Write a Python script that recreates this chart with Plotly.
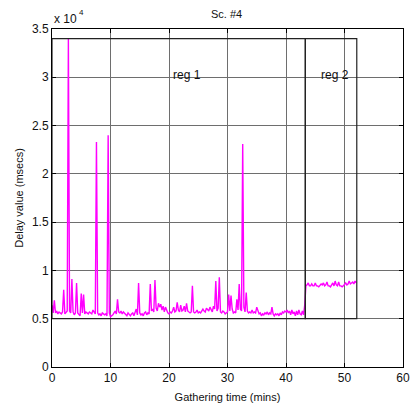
import numpy as np
import plotly.graph_objects as go

# Delay samples (msecs), one every SAMPLE_MIN minutes from t = 0
SAMPLE_MIN = 0.2
delay_ms = [
    6400, 5600, 6900, 5600, 5800, 5500, 5700, 5600, 5500, 5700,
    8000, 5500, 5600, 5800, 34000, 5800, 5600, 9100, 5700, 5400,
    5600, 8700, 5600, 5500, 5300, 7600, 5600, 7500, 5500, 5700,
    5600, 5500, 5700, 5600, 5500, 5900, 5600, 5500, 23300, 5600,
    5400, 5500, 5300, 5600, 5500, 5400, 5500, 5300, 24000, 5600,
    5200, 5300, 5400, 5600, 5800, 5500, 7000, 5700, 5600, 5800,
    5500, 5700, 5600, 5500, 5300, 5600, 5400, 5300, 5500, 5600,
    5300, 5800, 6000, 5400, 8700, 5600, 5400, 5500, 5300, 5600,
    5700, 5400, 5600, 5500, 8600, 5800, 6000, 5700, 9000, 6100,
    5800, 6600, 6200, 6500, 5900, 6300, 5700, 6200, 5800, 5600,
    5500, 5700, 5600, 5800, 6200, 5700, 5800, 6700, 5900, 5700,
    6400, 5800, 5900, 6300, 5700, 6600, 5800, 5700, 5600, 5700,
    8400, 5700, 5600, 5700, 5900, 5600, 5700, 5600, 5800, 6000,
    5800, 5700, 6100, 5900, 5800, 6200, 6000, 5700, 6300, 6000,
    8900, 5800, 6100, 9300, 5700, 5600, 5800, 5700, 5500, 5600,
    5700, 7500, 5800, 7400, 6000, 5600, 5700, 5600, 7000, 5900,
    8600, 6000, 5800, 23100, 6200, 5700, 7700, 5800, 5600, 5700,
    5600, 5900, 5600, 5700, 5600, 6200, 5800, 5500, 5600, 5300,
    5500, 5400, 5600, 5500, 5700, 5400, 5600, 5500, 6200, 5500,
    5300, 5500, 5400, 5500, 5300, 5600, 5400, 5700, 5600, 5800,
    5700, 5900, 5600, 5800, 5400, 5900, 5500, 5700, 5300, 5800,
    5400, 5900, 5500, 5400, 5800, 5400, 6400,
    # reg 2
    8400, 8500, 8700, 8400, 8400, 8600, 8400, 8400, 8700, 8400,
    8400, 8300, 8400, 8600, 8500, 8700, 8400, 8500, 8800, 8400,
    8400, 8300, 8500, 8700, 8400, 8900, 8500, 8400, 8800, 8400,
    8400, 8300, 8400, 8500, 8700, 8500, 8600, 8900, 8600, 8700,
    8800, 8600, 8900, 8700,
]
time_min = np.arange(len(delay_ms)) * SAMPLE_MIN

# Region definitions (minutes / msecs)
region_names = ["reg 1", "reg 2"]
region_start = [0.0, 43.3]
region_end = [43.3, 52.1]
region_floor = [5000, 5000]
region_ceiling = [34000, 34000]
region_label_x = [23.0, 48.3]
region_label_y = [30200, 30200]

SCALE = 1e4  # y axis shown in units of 10^4 msecs
y_ticks = [0, 0.5, 1, 1.5, 2, 2.5, 3, 3.5]
x_ticks = [0, 10, 20, 30, 40, 50, 60]

font_family = "Liberation Sans, Arial, sans-serif"

fig = go.Figure()
fig.add_trace(go.Scatter(
    x=time_min, y=np.array(delay_ms) / SCALE, mode="lines",
    line=dict(color="#ff00ff", width=1.4), showlegend=False,
))

for name, x0, x1, y0, y1, lx, ly in zip(region_names, region_start, region_end,
                                         region_floor, region_ceiling,
                                         region_label_x, region_label_y):
    fig.add_shape(type="rect", x0=x0, x1=x1, y0=y0 / SCALE, y1=y1 / SCALE,
                  xref="x", yref="y", line=dict(color="#222222", width=1.2),
                  fillcolor="rgba(0,0,0,0)")
    fig.add_annotation(x=lx, y=ly / SCALE, text=name, showarrow=False,
                       xref="x", yref="y", font=dict(size=12, color="#111"))

# Axis multiplier "x 10^4" above the y axis
fig.add_annotation(x=0, y=1.0, xref="paper", yref="paper", xanchor="left",
                   yanchor="bottom", yshift=1, showarrow=False,
                   text="x 10", font=dict(size=12, color="#111"))
fig.add_annotation(x=0, y=1.0, xref="paper", yref="paper", xanchor="left",
                   yanchor="bottom", xshift=25, yshift=10, showarrow=False,
                   text="4", font=dict(size=8, color="#111"))

axis_common = dict(
    showline=True, linecolor="black", linewidth=1, mirror="ticks",
    ticks="inside", ticklen=4, tickcolor="black",
    showgrid=True, gridcolor="#6e6e6e", gridwidth=1.2, zeroline=False,
    tickfont=dict(size=12, color="#111"),
)

fig.update_xaxes(range=[0, 60], tickvals=x_ticks,
                 title=dict(text="Gathering time (mins)", font=dict(size=11, color="#111"),
                            standoff=8),
                 **axis_common)
fig.update_yaxes(range=[0, 3.5], tickvals=y_ticks,
                 ticktext=[f"{v:g}" for v in y_ticks],
                 title=dict(text="Delay value (msecs)", font=dict(size=11, color="#111"),
                            standoff=6),
                 **axis_common)

fig.update_layout(
    width=412, height=413,
    margin=dict(l=52, r=9, t=29, b=46, autoexpand=False),
    paper_bgcolor="white", plot_bgcolor="white",
    font=dict(family=font_family, color="#111"),
    title=dict(text="Sc. #4", x=0.55, xanchor="center", y=0.975, yanchor="top",
               font=dict(size=11, color="#111")),
)

fig.write_html("out.html")
